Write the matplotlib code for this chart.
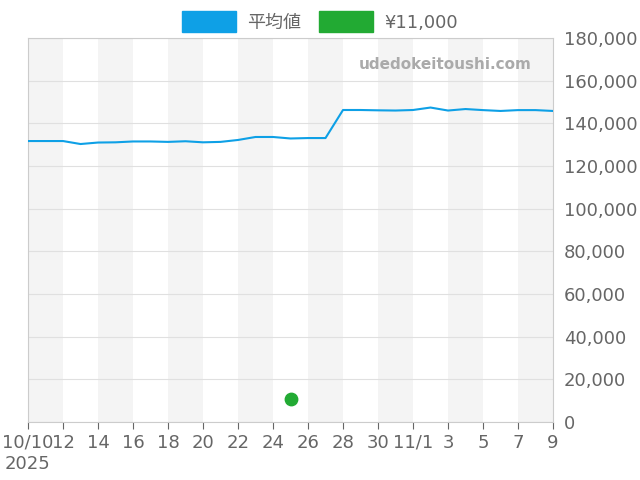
import datetime as dt
import matplotlib
matplotlib.use('Agg')
import matplotlib.pyplot as plt
from matplotlib.ticker import FuncFormatter
from matplotlib.patches import Patch

start = dt.date(2025, 10, 10)
avg_values = [131700, 131700, 131700, 130300, 131000, 131100, 131500, 131500,
              131300, 131600, 131100, 131300, 132200, 133600, 133600, 132900,
              133100, 133100, 146250, 146250, 146100, 146000, 146250, 147400,
              146000, 146700, 146200, 145800, 146200, 146200, 145800]
dates = [start + dt.timedelta(days=i) for i in range(len(avg_values))]
point_date = dt.date(2025, 10, 25)
point_value = 11000
tick_labels = ['10/10\n2025', '12', '14', '16', '18', '20', '22', '24', '26',
               '28', '30', '11/1', '3', '5', '7', '9']

fig = plt.figure(figsize=(6.4, 4.8), dpi=100)
ax = fig.add_axes([28/640, 58/480, 525/640, 384/480])

grey = '#666666'
for i in range(0, 30, 4):
    a = start + dt.timedelta(days=i)
    ax.axvspan(a, a + dt.timedelta(days=2), color='#f4f4f4', zorder=0, lw=0)

ax.plot(dates, avg_values, color='#0ea0e6', lw=1.5, zorder=3)
ax.scatter([point_date], [point_value], color='#22aa33', s=80, zorder=4)

ax.set_xlim(dates[0], dates[-1])
ax.set_ylim(0, 180000)
ax.yaxis.tick_right()
ax.set_yticks(range(0, 180001, 20000))
ax.yaxis.set_major_formatter(FuncFormatter(lambda v, p: '{:,.0f}'.format(v)))
ticks = [dt.date(2025, 10, 10) + dt.timedelta(days=2 * i) for i in range(11)] + \
        [dt.date(2025, 11, d) for d in (1, 3, 5, 7, 9)]
ax.set_xticks(ticks)
ax.set_xticklabels(tick_labels)
ax.grid(axis='y', color='#e0e0e0', lw=0.8)
ax.tick_params(colors=grey, labelsize=13, length=5)
ax.tick_params(axis='y', length=0, pad=8)
for s in ax.spines.values():
    s.set_color('#cccccc')

ax.text(0.96, 0.93, 'udedokeitoushi.com', transform=ax.transAxes, ha='right',
        va='center', color='#aaaaaa', fontsize=11, fontweight='bold')

handles = [Patch(color='#0ea0e6'), Patch(color='#22aa33')]
fig.legend(handles, ['平均値', '¥11,000'], loc='upper center',
           bbox_to_anchor=(0.5, 1.01), ncol=2, frameon=False,
           labelcolor=grey, handlelength=3.0, handleheight=1.4,
           columnspacing=1.0, handletextpad=0.6,
           prop={'family': ['DejaVu Sans', 'Noto Sans CJK JP'], 'size': 13})

fig.savefig('out.png')
